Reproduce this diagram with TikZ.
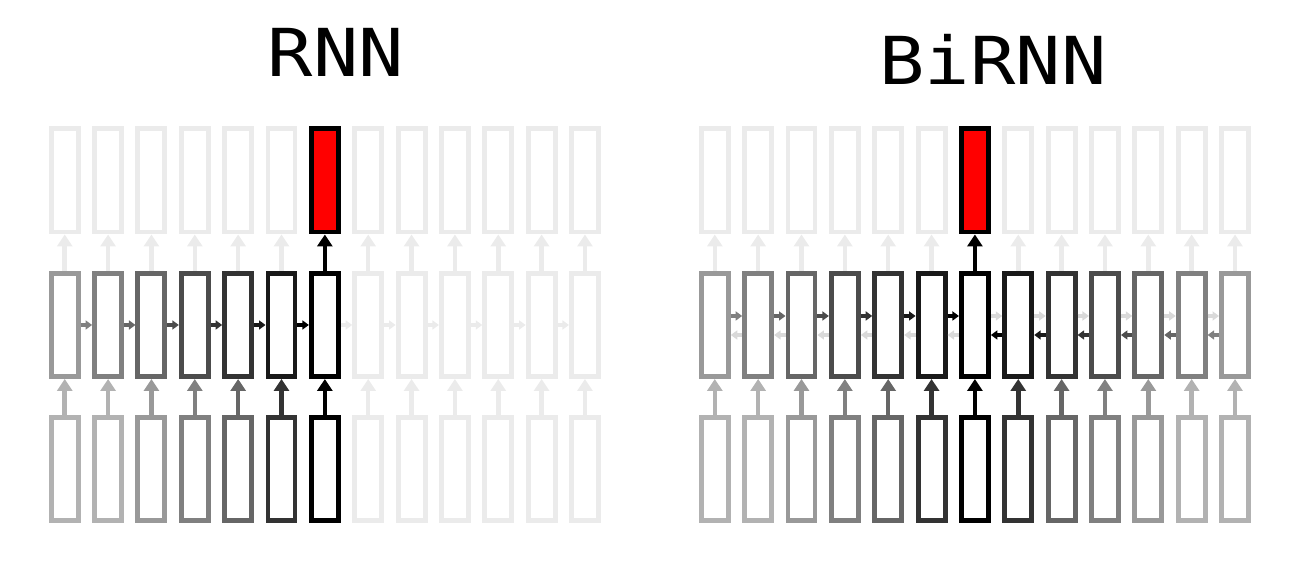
\documentclass[tikz,border=0pt]{standalone}
\usepackage{fontspec}
\newfontfamily\titlefont{DejaVu Sans Mono}
\usetikzlibrary{arrows.meta}

\begin{document}
\begin{tikzpicture}[x=0.01cm,y=-0.01cm,
  cell/.style={draw,line width=1.4pt,minimum width=0.27cm,minimum height=1.03cm,inner sep=0pt,fill=white},
  up/.style={line width=1.3pt,-{Triangle[width=0.15cm,length=0.12cm]}},
  side/.style={line width=0.95pt,-{Triangle[width=0.09cm,length=0.065cm]}},
  title/.style={font=\titlefont\fontsize{18.8pt}{20pt}\selectfont,anchor=base,xscale=1.14,transform shape}]
\useasboundingbox (0,0) rectangle (1306,568);

% titles
\node[title] (rnn) at (336,77) {RNN};
\node[title] (birnn) at (993,85) {BiRNN};

% RNN: output, hidden and input cells
\foreach \i/\o/\f/\h/\x in {1/8/white/40/30,2/8/white/50/30,3/8/white/60/40,4/8/white/70/50,
    5/8/white/80/60,6/8/white/90/80,7/100/red/100/100,8/8/white/8/8,9/8/white/8/8,
    10/8/white/8/8,11/8/white/8/8,12/8/white/8/8,13/8/white/8/8} {
  \node[cell,draw=black!\o,fill=\f] (o\i) at ({64.75+43.35*(\i-1)},180.5) {};
  \node[cell,draw=black!\h] (h\i) at ({64.75+43.35*(\i-1)},325) {};
  \node[cell,draw=black!\x] (x\i) at ({64.75+43.35*(\i-1)},469.2) {};
  \draw[up,black!\x] (x\i) -- (h\i);
  \draw[up,black!\o] (h\i) -- (o\i);
}
\foreach \i/\j/\c in {1/2/50,2/3/60,3/4/70,4/5/80,5/6/90,6/7/100,7/8/8,8/9/8,9/10/8,
    10/11/8,11/12/8,12/13/8}
  \draw[side,black!\c] (h\i) -- (h\j);

% BiRNN
\foreach \i/\o/\f/\h/\x in {1/8/white/40/30,2/8/white/50/30,3/8/white/60/40,4/8/white/70/50,
    5/8/white/80/60,6/8/white/90/80,7/100/red/100/100,8/8/white/90/80,9/8/white/80/60,
    10/8/white/70/50,11/8/white/60/40,12/8/white/50/30,13/8/white/40/30} {
  \node[cell,draw=black!\o,fill=\f] (bo\i) at ({714.8+43.35*(\i-1)},180.5) {};
  \node[cell,draw=black!\h] (bh\i) at ({714.8+43.35*(\i-1)},325) {};
  \node[cell,draw=black!\x] (bx\i) at ({714.8+43.35*(\i-1)},469.2) {};
  \draw[up,black!\x] (bx\i) -- (bh\i);
  \draw[up,black!\o] (bh\i) -- (bo\i);
}
% forward and backward links
\foreach \i/\j/\c/\d in {1/2/50/15,2/3/60/15,3/4/70/15,4/5/80/15,5/6/90/15,6/7/100/15,
    7/8/15/100,8/9/15/90,9/10/15/80,10/11/15/70,11/12/15/60,12/13/15/50} {
  \draw[side,black!\c] ([yshift=0.09cm]bh\i.east) -- ([yshift=0.09cm]bh\j.west);
  \draw[side,black!\d] ([yshift=-0.1cm]bh\j.west) -- ([yshift=-0.1cm]bh\i.east);
}
\end{tikzpicture}
\end{document}
